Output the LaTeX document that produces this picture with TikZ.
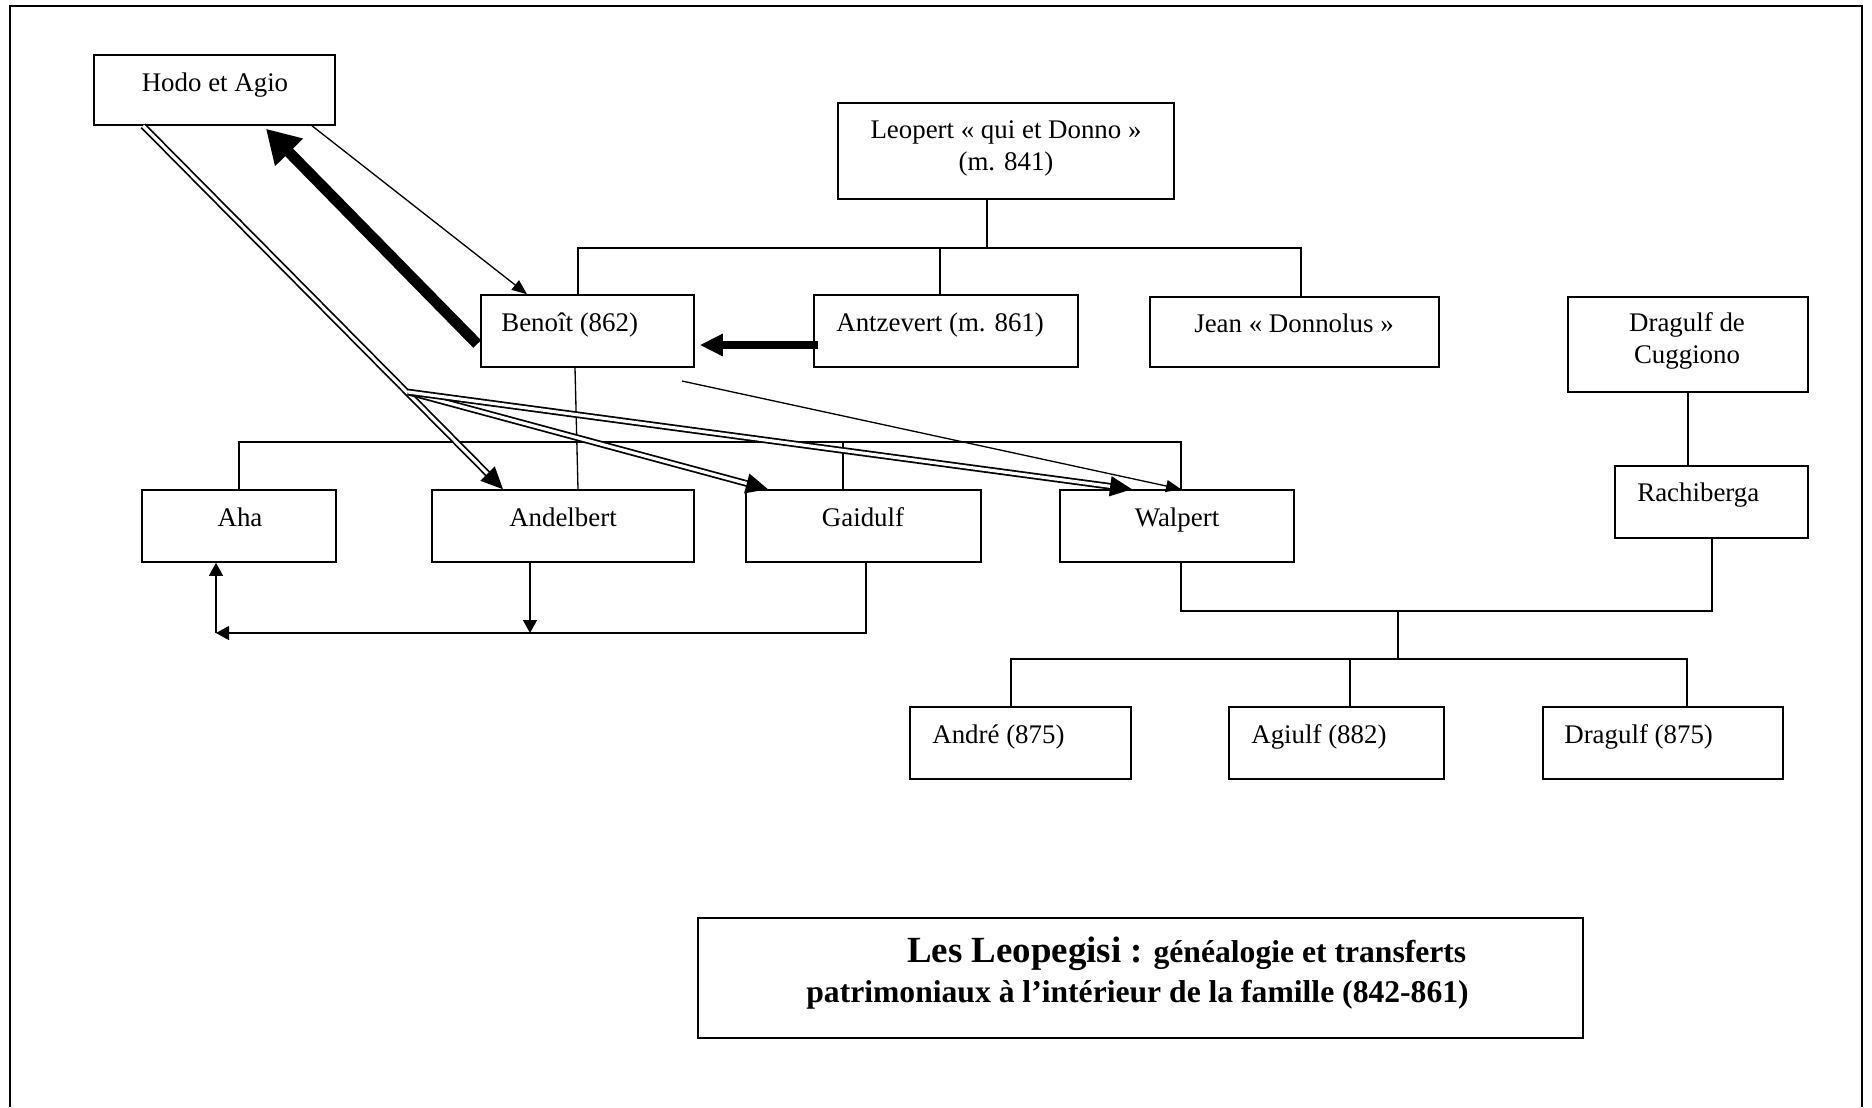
\documentclass[tikz,border=0pt]{standalone}
\usepackage{fontspec}
\setmainfont{Liberation Serif}
\usetikzlibrary{arrows.meta,fit,calc}
\begin{document}
\begin{tikzpicture}[x=0.02cm,y=-0.02cm,
  box/.style={draw, line width=0.9pt, inner sep=0pt, rectangle},
  lbl/.style={inner sep=0pt, font=\fontsize{15.3}{18}\selectfont},
  conn/.style={line width=0.75pt},
  smallarr/.style={conn, -{Triangle[length=0.26cm,width=0.28cm]}},
  thinarr/.style={line width=0.75pt, -{Triangle[length=0.3cm,width=0.24cm]}},
  dblarr/.style={double, double distance=1.8pt, line width=1pt, -{Triangle[length=0.44cm,width=0.4cm]}},
  heavyarr/.style={line width=4pt, -{Triangle[length=0.46cm,width=0.42cm]}},
  heavierarr/.style={line width=6.2pt, -{Triangle[length=0.66cm,width=0.74cm]}}
]
\useasboundingbox (0,0) rectangle (1872,1107);
\fill[white] (0,0) rectangle (1872,1107);
% outer frame
\draw[line width=1.3pt] (10,1107) -- (10,6) -- (1862,6) -- (1862,1107);

% boxes
\node[box, fit={(94,55) (335,125)}] (hodo) {};
\node[box, fit={(838,103) (1174,199)}] (leopert) {};
\node[box, fit={(481,295) (694,367)}] (benoit) {};
\node[box, fit={(814,295) (1078,367)}] (antz) {};
\node[box, fit={(1150,297) (1439,367)}] (jean) {};
\node[box, fit={(1568,297) (1808,392)}] (dragcug) {};
\node[box, fit={(1615,466) (1808,538)}] (rachi) {};
\node[box, fit={(142,490) (336,562)}] (aha) {};
\node[box, fit={(432,490) (694,562)}] (andel) {};
\node[box, fit={(746,490) (981,562)}] (gaid) {};
\node[box, fit={(1060,490) (1294,562)}] (walp) {};
\node[box, fit={(910,707) (1131,779)}] (andre) {};
\node[box, fit={(1229,707) (1444,779)}] (agiulf) {};
\node[box, fit={(1543,707) (1783,779)}] (drag) {};
\node[box, fit={(698,918) (1583,1038)}] (title) {};

% texts
\node[lbl, anchor=base] (hodo-t) at (215,91) {Hodo et Agio};
\node[lbl, anchor=base] (leopert-t1) at (1006,138) {Leopert « qui et Donno »};
\node[lbl, anchor=base] (leopert-t2) at (1006,170) {(m. 841)};
\node[lbl, anchor=base west] (benoit-t) at (501,331) {Benoît (862)};
\node[lbl, anchor=base west] (antz-t) at (836,331) {Antzevert (m. 861)};
\node[lbl, anchor=base] (jean-t) at (1294,332) {Jean « Donnolus »};
\node[lbl, anchor=base] (dragcug-t1) at (1687,331) {Dragulf de};
\node[lbl, anchor=base] (dragcug-t2) at (1687,363) {Cuggiono};
\node[lbl, anchor=base west] (rachi-t) at (1637,501) {Rachiberga};
\node[lbl, anchor=base] (aha-t) at (240,526) {Aha};
\node[lbl, anchor=base] (andel-t) at (563,526) {Andelbert};
\node[lbl, anchor=base] (gaid-t) at (863,526) {Gaidulf};
\node[lbl, anchor=base] (walp-t) at (1177,526) {Walpert};
\node[lbl, anchor=base west] (andre-t) at (932,743) {André (875)};
\node[lbl, anchor=base west] (agiulf-t) at (1251,743) {Agiulf (882)};
\node[lbl, anchor=base west] (drag-t) at (1564,743) {Dragulf (875)};
\node[inner sep=0pt, anchor=base west] (title-t1) at (907,962)
  {\bfseries\fontsize{21}{24}\selectfont Les Leopegisi :\fontsize{18}{21}\selectfont{} généalogie et transferts};
\node[inner sep=0pt, anchor=base west] (title-t2) at (806,1002)
  {\bfseries\fontsize{18}{21}\selectfont patrimoniaux à l’intérieur de la famille (842-861)};

% Leopert's children
\draw[conn] (987,0 |- leopert.south) -- (987,248);
\draw[conn] (578,0 |- benoit.north) -- (578,248) -- (1301,248) -- (1301,0 |- jean.north);
\draw[conn] (940,0 |- antz.north) -- (940,248);

% Benoit's children
\draw[conn] (575,0 |- benoit.south) -- (578,0 |- andel.north);
\draw[conn] (239,0 |- aha.north) -- (239,442) -- (1181,442) -- (1181,0 |- walp.north);
\draw[conn] (843,0 |- gaid.north) -- (843,442);

% Andelbert / Gaidulf -> Aha
\draw[smallarr] (530,0 |- andel.south) -- (530,633);
\draw[smallarr] (866,0 |- gaid.south) -- (866,633) -- (216,633);
\draw[smallarr] (216,633) -- (216,0 |- aha.south);

% Dragulf de Cuggiono -> Rachiberga
\draw[conn] (1688,0 |- dragcug.south) -- (1688,0 |- rachi.north);
% Walpert + Rachiberga
\draw[conn] (1181,0 |- walp.south) -- (1181,611) -- (1712,611) -- (1712,0 |- rachi.south);
\draw[conn] (1398,611) -- (1398,659);
\draw[conn] (1011,0 |- andre.north) -- (1011,659) -- (1687,659) -- (1687,0 |- drag.north);
\draw[conn] (1350,0 |- agiulf.north) -- (1350,659);

% transfers
\draw[heavyarr] ($(antz.west |- 0,345)+(5,0)$) -- ($(benoit.east |- 0,345)+(5,0)$);
\draw[heavierarr] ($(benoit.west |- 0,344)+(-3,0)$) -- ($(266,0 |- hodo.south)+(0,3)$);
\draw[thinarr] (312,0 |- hodo.south) -- (527,0 |- benoit.north);
\coordinate (J) at (408,392);
\coordinate (bw) at (682,381);
\draw[dblarr] (143,0 |- hodo.south) -- (503,0 |- andel.north);
\draw[dblarr] (J) -- (768,0 |- gaid.north);
\draw[dblarr] (J) -- (1132,0 |- walp.north);
\draw[thinarr] (bw) -- (1181,0 |- walp.north);
\end{tikzpicture}
\end{document}
